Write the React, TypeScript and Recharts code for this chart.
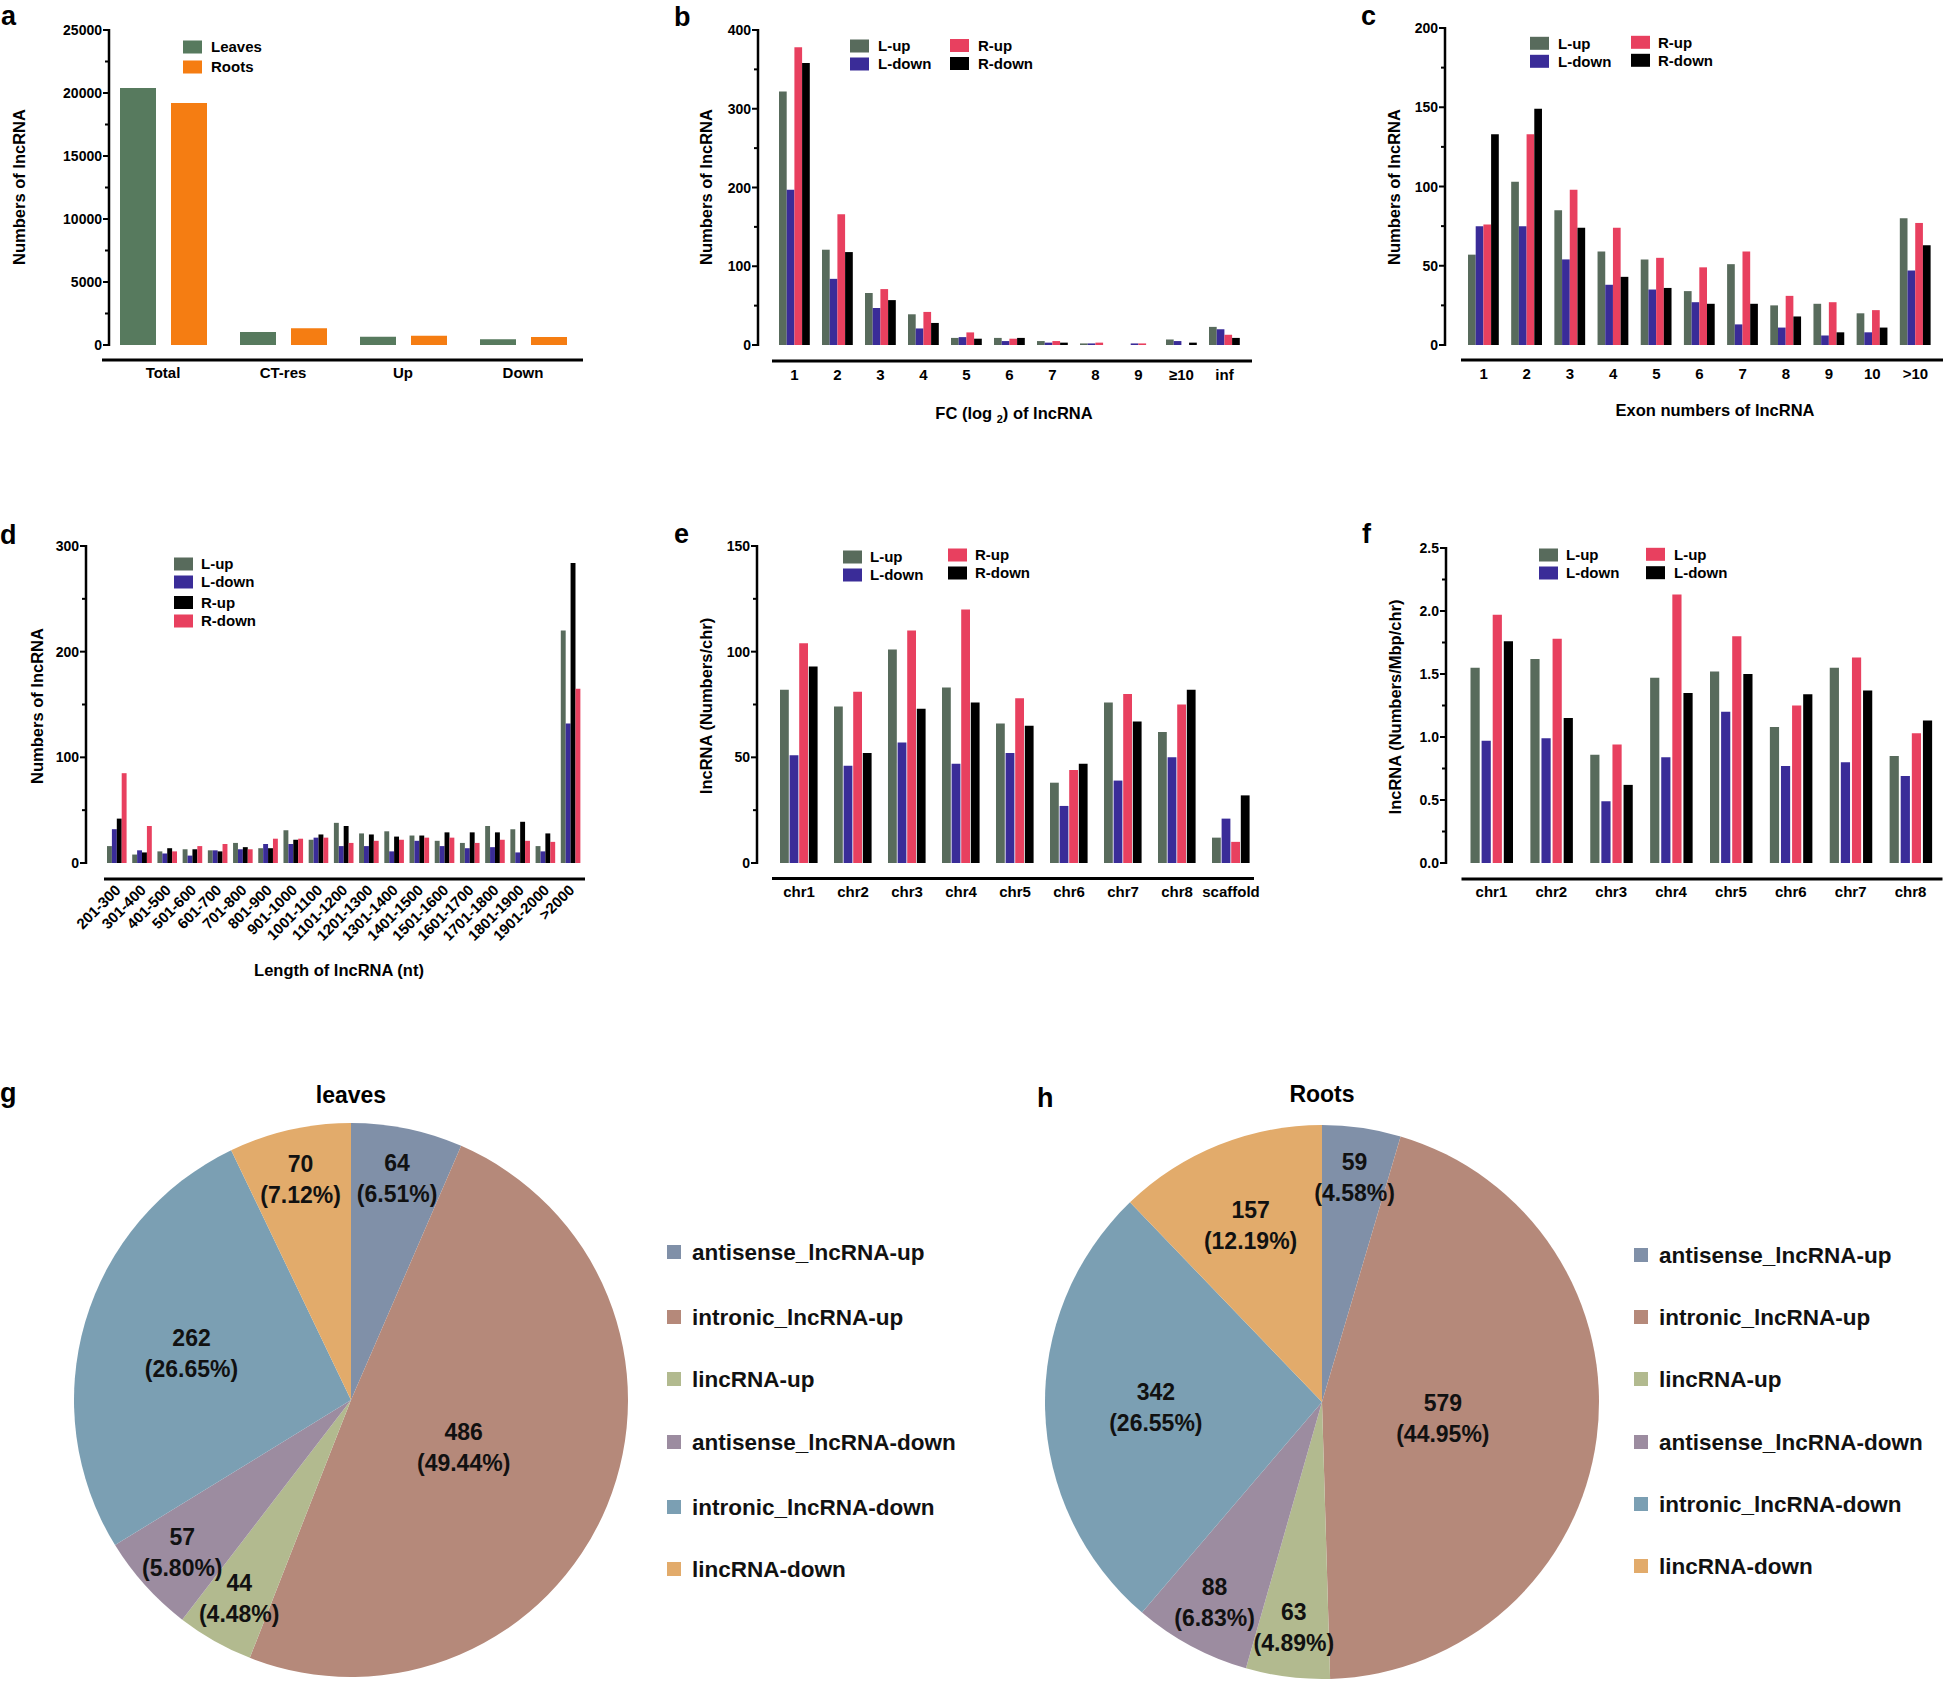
import React from "react";
import { BarChart, Bar, XAxis, YAxis, ReferenceArea, PieChart, Pie, Cell } from "recharts";

const FONT = "'Liberation Sans', Arial, Helvetica, sans-serif";

// ---- a: overview ----
const overviewCats = ["Total", "CT-res", "Up", "Down"];
const overviewLeaves = [20400, 1030, 660, 450];
const overviewRoots = [19200, 1320, 740, 630];
const overviewMajor = [0, 5000, 10000, 15000, 20000, 25000];
const overviewMinor = [2500, 7500, 12500, 17500, 22500];

// ---- b: fold change ----
const fcCats = ["1", "2", "3", "4", "5", "6", "7", "8", "9", "≥10", "inf"];
const fcLUp = [322, 121, 66, 39, 9, 9, 5, 2, 0, 7, 23];
const fcLDown = [197, 84, 47, 21, 10, 5, 3, 2, 2, 5, 20];
const fcRUp = [378, 166, 71, 42, 16, 8, 5, 3, 2, 0, 13];
const fcRDown = [358, 118, 57, 28, 8, 9, 3, 0, 0, 3, 9];
const fcMajor = [0, 100, 200, 300, 400];
const fcMinor = [50, 150, 250, 350];

// ---- c: exon numbers ----
const exonCats = ["1", "2", "3", "4", "5", "6", "7", "8", "9", "10", ">10"];
const exonLUp = [57, 103, 85, 59, 54, 34, 51, 25, 26, 20, 80];
const exonLDown = [75, 75, 54, 38, 35, 27, 13, 11, 6, 8, 47];
const exonRUp = [76, 133, 98, 74, 55, 49, 59, 31, 27, 22, 77];
const exonRDown = [133, 149, 74, 43, 36, 26, 26, 18, 8, 11, 63];
const exonMajor = [0, 50, 100, 150, 200];
const exonMinor = [25, 75, 125, 175];

// ---- d: length ----
const lenCats = [
  "201-300", "301-400", "401-500", "501-600", "601-700", "701-800", "801-900", "901-1000",
  "1001-1100", "1101-1200", "1201-1300", "1301-1400", "1401-1500", "1501-1600", "1601-1700",
  "1701-1800", "1801-1900", "1901-2000", ">2000",
];
const lenLUp = [16, 8, 11, 13, 12, 19, 14, 31, 22, 38, 28, 30, 26, 21, 19, 35, 32, 16, 220];
const lenLDown = [32, 12, 9, 7, 12, 13, 18, 18, 24, 16, 16, 11, 21, 16, 14, 15, 10, 11, 132];
const lenRUp = [42, 10, 14, 13, 11, 15, 14, 22, 27, 35, 27, 25, 26, 29, 29, 29, 39, 28, 284];
const lenRDown = [85, 35, 11, 16, 18, 13, 23, 23, 24, 19, 21, 22, 24, 24, 19, 22, 21, 20, 165];
const lenMajor = [0, 100, 200, 300];
const lenMinor = [50, 150, 250];

// ---- e: per chromosome ----
const chrCats = ["chr1", "chr2", "chr3", "chr4", "chr5", "chr6", "chr7", "chr8", "scaffold"];
const chrLUp = [82, 74, 101, 83, 66, 38, 76, 62, 12];
const chrLDown = [51, 46, 57, 47, 52, 27, 39, 50, 21];
const chrRUp = [104, 81, 110, 120, 78, 44, 80, 75, 10];
const chrRDown = [93, 52, 73, 76, 65, 47, 67, 82, 32];
const chrMajor = [0, 50, 100, 150];
const chrMinor = [25, 75, 125];

// ---- f: per Mbp ----
const mbpCats = ["chr1", "chr2", "chr3", "chr4", "chr5", "chr6", "chr7", "chr8"];
const mbpLUp = [1.55, 1.62, 0.86, 1.47, 1.52, 1.08, 1.55, 0.85];
const mbpLDown = [0.97, 0.99, 0.49, 0.84, 1.2, 0.77, 0.8, 0.69];
const mbpRUp = [1.97, 1.78, 0.94, 2.13, 1.8, 1.25, 1.63, 1.03];
const mbpRDown = [1.76, 1.15, 0.62, 1.35, 1.5, 1.34, 1.37, 1.13];
const mbpMajor = [0, 0.5, 1, 1.5, 2, 2.5];
const mbpMinor = [0.25, 0.75, 1.25, 1.75, 2.25];

// ---- g/h: lncRNA types ----
const typeNames = [
  "antisense_lncRNA-up", "intronic_lncRNA-up", "lincRNA-up",
  "antisense_lncRNA-down", "intronic_lncRNA-down", "lincRNA-down",
];
const leavesCounts = [64, 486, 44, 57, 262, 70];
const rootsCounts = [59, 579, 63, 88, 342, 157];

const GREEN = "#586B5C";
const INDIGO = "#3A2C98";
const ROSE = "#E8405F";
const BLACK = "#000000";
const LEAF_GREEN = "#577A5E";
const ROOT_ORANGE = "#F57D12";
const TYPE_COLORS = ["#8090A8", "#B5897A", "#B2BA8F", "#9C8CA0", "#7B9FB3", "#E2AB6B"];

const Y_W = 60;
const TITLE_SIZE = 16.5;

type Series = { name: string; color: string; values: number[] };

function BarPanel(props: any) {
  const { box, plot, cats, series, yMax, majors, minors, fmt, gapX, gapY, lineStart, lineEnd,
    barSize, barGap, labelDy, rotate, xHeight, tickFont = 15 } = props;
  const rows = cats.map((cat: string, i: number) => {
    const r: Record<string, any> = { cat };
    series.forEach((s: Series, j: number) => { r["s" + j] = s.values[i]; });
    return r;
  });
  const margin = {
    left: plot.x0 - box.left - Y_W,
    right: box.left + box.width - plot.x1,
    top: plot.yTop - box.top,
    bottom: box.top + box.height - plot.yBot - xHeight,
  };
  const ticks = [...majors, ...minors].sort((a: number, b: number) => a - b);
  const yTick = (p: any) => {
    const ax = p.x - gapX;
    const major = majors.includes(p.payload.value);
    return (
      <g>
        <line x1={ax} x2={ax - (major ? 6 : 4)} y1={p.y} y2={p.y} stroke="#000" strokeWidth={2} />
        {major && (
          <text x={ax - 7} y={p.y} dy="0.36em" textAnchor="end" fontFamily={FONT} fontWeight="bold" fontSize={14} fill="#000">
            {fmt ? fmt(p.payload.value) : p.payload.value}
          </text>
        )}
      </g>
    );
  };
  const xTick = (p: any) => {
    if (rotate) {
      const tx = p.x + 5;
      const ty = p.y + labelDy;
      return (
        <text x={tx} y={ty} textAnchor="end" transform={`rotate(-45 ${tx} ${ty})`} fontFamily={FONT} fontWeight="bold" fontSize={tickFont} fill="#000">
          {p.payload.value}
        </text>
      );
    }
    return (
      <text x={p.x} y={p.y + labelDy} dy="0.36em" textAnchor="middle" fontFamily={FONT} fontWeight="bold" fontSize={tickFont} fill="#000">
        {p.payload.value}
      </text>
    );
  };
  const frame = (p: any) => (
    <g>
      <line x1={p.x - gapX} x2={p.x - gapX} y1={p.y - 1} y2={p.y + p.height + 1} stroke="#000" strokeWidth={2.5} />
      <line x1={p.x + lineStart} x2={p.x + p.width + lineEnd} y1={p.y + p.height + gapY} y2={p.y + p.height + gapY} stroke="#000" strokeWidth={3.2} />
    </g>
  );
  return (
    <div style={{ position: "absolute", left: box.left, top: box.top }}>
      <BarChart width={box.width} height={box.height} data={rows} margin={margin} barGap={barGap} barSize={barSize}>
        <XAxis dataKey="cat" interval={0} axisLine={false} tickLine={false} tickSize={0} tickMargin={0} height={xHeight} tick={xTick} />
        <YAxis type="number" domain={[0, yMax]} ticks={ticks} interval={0} axisLine={false} tickLine={false} tickSize={0} tickMargin={0} width={Y_W} tick={yTick} />
        <ReferenceArea y1={0} y2={yMax} ifOverflow="visible" shape={frame} />
        {series.map((s: Series, j: number) => (
          <Bar key={j} dataKey={"s" + j} name={s.name} fill={s.color} barSize={barSize} isAnimationActive={false} />
        ))}
      </BarChart>
    </div>
  );
}

const RAD = Math.PI / 180;
function pieLabel(p: any) {
  const k = p.percent > 0.4 ? 0.44 : p.percent > 0.2 ? 0.6 : p.percent > 0.1 ? 0.69 : 0.82;
  const r = p.outerRadius * k;
  const x = p.cx + r * Math.cos(-p.midAngle * RAD);
  const y = p.cy + r * Math.sin(-p.midAngle * RAD);
  return (
    <text x={x} y={y} textAnchor="middle" fontFamily={FONT} fontWeight="bold" fontSize={23} fill="#111">
      <tspan x={x} dy={-7}>{p.value}</tspan>
      <tspan x={x} dy={31}>({(p.percent * 100).toFixed(2)}%)</tspan>
    </text>
  );
}

function PiePanel({ left, top, counts }: { left: number; top: number; counts: number[] }) {
  const rows = typeNames.map((name, i) => ({ name, value: counts[i] }));
  return (
    <div style={{ position: "absolute", left, top }}>
      <PieChart width={640} height={583} margin={{ top: 0, right: 0, bottom: 0, left: 0 }}>
        <Pie data={rows} dataKey="value" nameKey="name" cx={311} cy={300} outerRadius={277}
          startAngle={90} endAngle={-270} stroke="none" label={pieLabel} labelLine={false} isAnimationActive={false}>
          {rows.map((_, i) => <Cell key={i} fill={TYPE_COLORS[i]} />)}
        </Pie>
      </PieChart>
    </div>
  );
}

type LegPos = [number, number, number];
function BarLegend({ series, pos }: { series: Series[]; pos: LegPos[] }) {
  return (
    <g>
      {series.map((s, i) => (
        <g key={i}>
          <rect x={pos[i][0]} y={pos[i][2] - 6.5} width={19} height={13} fill={s.color} />
          <text x={pos[i][1]} y={pos[i][2]} dy="0.36em" fontFamily={FONT} fontWeight="bold" fontSize={15} fill="#000">{s.name}</text>
        </g>
      ))}
    </g>
  );
}

function PieLegend({ sx, tx, ys }: { sx: number; tx: number; ys: number[] }) {
  return (
    <g>
      {typeNames.map((n, i) => (
        <g key={i}>
          <rect x={sx} y={ys[i] - 7} width={14} height={14} fill={TYPE_COLORS[i]} />
          <text x={tx} y={ys[i]} dy="0.36em" fontFamily={FONT} fontWeight="bold" fontSize={22.5} fill="#111">{n}</text>
        </g>
      ))}
    </g>
  );
}

function YTitle({ x, y, text }: { x: number; y: number; text: string }) {
  return (
    <text x={x} y={y} dy="0.36em" textAnchor="middle" transform={`rotate(-90 ${x} ${y})`} fontFamily={FONT} fontWeight="bold" fontSize={TITLE_SIZE} fill="#000">{text}</text>
  );
}

function Letter({ x, y, t }: { x: number; y: number; t: string }) {
  return <text x={x} y={y} fontFamily={FONT} fontWeight="bold" fontSize={27} fill="#000">{t}</text>;
}

const seriesA: Series[] = [
  { name: "Leaves", color: LEAF_GREEN, values: overviewLeaves },
  { name: "Roots", color: ROOT_ORANGE, values: overviewRoots },
];
const seriesB: Series[] = [
  { name: "L-up", color: GREEN, values: fcLUp },
  { name: "L-down", color: INDIGO, values: fcLDown },
  { name: "R-up", color: ROSE, values: fcRUp },
  { name: "R-down", color: BLACK, values: fcRDown },
];
const seriesC: Series[] = [
  { name: "L-up", color: GREEN, values: exonLUp },
  { name: "L-down", color: INDIGO, values: exonLDown },
  { name: "R-up", color: ROSE, values: exonRUp },
  { name: "R-down", color: BLACK, values: exonRDown },
];
const seriesD: Series[] = [
  { name: "L-up", color: GREEN, values: lenLUp },
  { name: "L-down", color: INDIGO, values: lenLDown },
  { name: "R-up", color: BLACK, values: lenRUp },
  { name: "R-down", color: ROSE, values: lenRDown },
];
const seriesE: Series[] = [
  { name: "L-up", color: GREEN, values: chrLUp },
  { name: "L-down", color: INDIGO, values: chrLDown },
  { name: "R-up", color: ROSE, values: chrRUp },
  { name: "R-down", color: BLACK, values: chrRDown },
];
const seriesF: Series[] = [
  { name: "L-up", color: GREEN, values: mbpLUp },
  { name: "L-down", color: INDIGO, values: mbpLDown },
  { name: "L-up", color: ROSE, values: mbpRUp },
  { name: "L-down", color: BLACK, values: mbpRDown },
];

export default function App() {
  return (
    <div style={{ position: "absolute", left: 0, top: 0, width: 1944, height: 1683, background: "#fff", overflow: "hidden", fontFamily: FONT }}>
      <BarPanel box={{ left: 0, top: 0, width: 640, height: 430 }} plot={{ x0: 103, x1: 583, yTop: 30, yBot: 345 }}
        cats={overviewCats} series={seriesA} yMax={25000} majors={overviewMajor} minors={overviewMinor}
        gapX={-6} gapY={15} lineStart={-1} lineEnd={0} barSize={36} barGap={15} labelDy={28} xHeight={50} />
      <BarPanel box={{ left: 640, top: 0, width: 640, height: 430 }} plot={{ x0: 773, x1: 1246, yTop: 30, yBot: 345 }}
        cats={fcCats} series={seriesB} yMax={400} majors={fcMajor} minors={fcMinor}
        gapX={15} gapY={16} lineStart={-1} lineEnd={6} barSize={7.7} barGap={0} labelDy={30} xHeight={50} />
      <BarPanel box={{ left: 1300, top: 0, width: 644, height: 430 }} plot={{ x0: 1462, x1: 1937, yTop: 28, yBot: 345 }}
        cats={exonCats} series={seriesC} yMax={200} majors={exonMajor} minors={exonMinor}
        gapX={17} gapY={15} lineStart={-1} lineEnd={6} barSize={7.7} barGap={0} labelDy={29} xHeight={50} />
      <BarPanel box={{ left: 0, top: 500, width: 640, height: 500 }} plot={{ x0: 104, x1: 583, yTop: 546, yBot: 863 }}
        cats={lenCats} series={seriesD} yMax={300} majors={lenMajor} minors={lenMinor}
        gapX={18} gapY={16} lineStart={0} lineEnd={2} barSize={4.9} barGap={0} labelDy={28} rotate tickFont={15} xHeight={90} />
      <BarPanel box={{ left: 640, top: 500, width: 640, height: 430 }} plot={{ x0: 772, x1: 1258, yTop: 546, yBot: 863 }}
        cats={chrCats} series={seriesE} yMax={150} majors={chrMajor} minors={chrMinor}
        gapX={15} gapY={15.5} lineStart={0} lineEnd={-4} barSize={8.8} barGap={0.8} labelDy={28.5} xHeight={50} />
      <BarPanel box={{ left: 1300, top: 500, width: 644, height: 430 }} plot={{ x0: 1461.5, x1: 1940.5, yTop: 548, yBot: 863 }}
        cats={mbpCats} series={seriesF} yMax={2.5} majors={mbpMajor} minors={mbpMinor} fmt={(v: number) => v.toFixed(1)}
        gapX={15.5} gapY={16} lineStart={0} lineEnd={2} barSize={9.2} barGap={1.9} labelDy={29} xHeight={50} />

      <PiePanel left={40} top={1100} counts={leavesCounts} />
      <PiePanel left={1011} top={1102} counts={rootsCounts} />

      <svg width={1944} height={1683} style={{ position: "absolute", left: 0, top: 0, pointerEvents: "none" }}>
        <Letter x={1} y={25} t="a" />
        <Letter x={674} y={26} t="b" />
        <Letter x={1361} y={25} t="c" />
        <Letter x={0} y={544} t="d" />
        <Letter x={674} y={543} t="e" />
        <Letter x={1362} y={543} t="f" />
        <Letter x={0} y={1102} t="g" />
        <Letter x={1037} y={1107} t="h" />

        <YTitle x={19} y={187} text="Numbers of lncRNA" />
        <YTitle x={706} y={187} text="Numbers of lncRNA" />
        <YTitle x={1394} y={187} text="Numbers of lncRNA" />
        <YTitle x={37} y={706} text="Numbers of lncRNA" />
        <YTitle x={706} y={706} text="lncRNA (Numbers/chr)" />
        <YTitle x={1395} y={707} text="lncRNA (Numbers/Mbp/chr)" />

        <text x={1014} y={413} dy="0.36em" textAnchor="middle" fontFamily={FONT} fontWeight="bold" fontSize={TITLE_SIZE}>
          FC (log <tspan fontSize={11} dy={4}>2</tspan><tspan dy={-4}>) of lncRNA</tspan>
        </text>
        <text x={1715} y={410} dy="0.36em" textAnchor="middle" fontFamily={FONT} fontWeight="bold" fontSize={TITLE_SIZE}>Exon numbers of lncRNA</text>
        <text x={339} y={970} dy="0.36em" textAnchor="middle" fontFamily={FONT} fontWeight="bold" fontSize={TITLE_SIZE}>Length of lncRNA (nt)</text>

        <BarLegend series={seriesA} pos={[[183, 211, 47], [183, 211, 67]]} />
        <BarLegend series={seriesB} pos={[[850, 878, 46], [850, 878, 64], [950, 978, 45.5], [950, 978, 63.5]]} />
        <BarLegend series={seriesC} pos={[[1530, 1558, 43.3], [1530, 1558, 61.3], [1631, 1658, 42.3], [1631, 1658, 60.3]]} />
        <BarLegend series={seriesD} pos={[[174, 201, 564], [174, 201, 582], [174, 201, 602.5], [174, 201, 621]]} />
        <BarLegend series={seriesE} pos={[[843, 870, 557], [843, 870, 575], [948, 975, 555], [948, 975, 573]]} />
        <BarLegend series={seriesF} pos={[[1539, 1566, 555], [1539, 1566, 573], [1646, 1674, 554.3], [1646, 1674, 572.7]]} />

        <text x={351} y={1103} textAnchor="middle" fontFamily={FONT} fontWeight="bold" fontSize={23}>leaves</text>
        <text x={1322} y={1102} textAnchor="middle" fontFamily={FONT} fontWeight="bold" fontSize={23}>Roots</text>
        <PieLegend sx={667} tx={692} ys={[1252, 1317, 1379, 1442, 1507, 1569]} />
        <PieLegend sx={1634} tx={1659} ys={[1255, 1317, 1379, 1442, 1504, 1566]} />
      </svg>
    </div>
  );
}
